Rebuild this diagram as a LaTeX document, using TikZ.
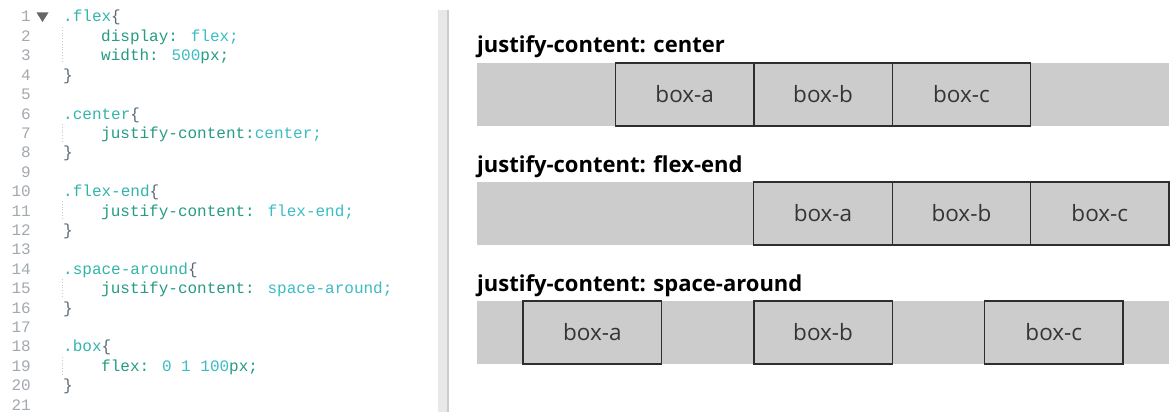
\documentclass[tikz,border=0pt]{standalone}
\usepackage{fontspec}
\setmainfont{Open Sans}
\newfontfamily\codefont{Liberation Mono}
\newfontfamily\uifont{Open Sans}
\definecolor{sel}{HTML}{33B5AC}
\definecolor{prop}{HTML}{259C83}
\definecolor{val}{HTML}{3CBCC4}
\definecolor{brace}{HTML}{5B6878}
\definecolor{lnum}{HTML}{A3A9AF}
\definecolor{cont}{HTML}{CCCCCC}
\definecolor{boxline}{HTML}{2E2E2E}
\definecolor{boxtext}{HTML}{353535}
\definecolor{guide}{HTML}{C8CCD0}
\tikzset{
  lno/.style={anchor=base east, inner sep=0pt, text=lnum, font=\codefont\fontsize{16}{16}\selectfont},
  code/.style={anchor=base west, inner sep=0pt, font=\codefont\fontsize{16}{16}\selectfont},
  title/.style={anchor=base west, inner sep=0pt, text=black, font=\uifont\bfseries\fontsize{22}{22}\selectfont},
  strip/.style={anchor=north west, fill=cont, draw=none, minimum width=692pt, minimum height=63pt, inner sep=0pt},
  flexbox/.style={fill=cont, draw=boxline, line width=1.3pt, minimum width=138.4pt, minimum height=63pt, inner sep=0pt, text=boxtext, font=\uifont\fontsize{22.5}{22.5}\selectfont},
  indent/.style={draw=guide, line width=0.8pt, dotted}
}
\newcommand{\Sel}[1]{\textcolor{sel}{#1}}
\newcommand{\Prp}[1]{\textcolor{prop}{#1}}
\newcommand{\Val}[1]{\textcolor{val}{#1}}
\newcommand{\Brc}[1]{\textcolor{brace}{#1}}
\begin{document}
\begin{tikzpicture}[x=1pt,y=-1pt]
\useasboundingbox (0,0) rectangle (1173,412);
\fill[white] (0,0) rectangle (1173,412);

% line numbers
\foreach \n in {1,...,21}{
  \node[lno] (ln\n) at (31,{22+(\n-1)*19.4}) {\n};
}
% fold marker
\fill[black!60] (36.5,12.5) -- (48.5,12.5) -- (42.5,22) -- cycle;

% indent guides
\draw[indent] (62.5,27) -- (62.5,63);
\draw[indent] (62.5,124) -- (62.5,141);
\draw[indent] (62.5,201) -- (62.5,218);
\draw[indent] (62.5,279) -- (62.5,296);
\draw[indent] (62.5,357) -- (62.5,374);

% stylesheet
\node[code] (c1)  at (63,22)    {\Sel{.flex}\Brc{\{}};
\node[code] (c2)  at (101,41.4) {\Prp{display:} \Val{flex;}};
\node[code] (c3)  at (101,60.8) {\Prp{width:} \Val{500}\Prp{px;}};
\node[code] (c4)  at (63,80.2)  {\Brc{\}}};
\node[code] (c6)  at (63,119)   {\Sel{.center}\Brc{\{}};
\node[code] (c7)  at (101,138.4){\Prp{justify-content:}\Val{center;}};
\node[code] (c8)  at (63,157.8) {\Brc{\}}};
\node[code] (c10) at (63,196.6) {\Sel{.flex-end}\Brc{\{}};
\node[code] (c11) at (101,216)  {\Prp{justify-content:} \Val{flex-end;}};
\node[code] (c12) at (63,235.4) {\Brc{\}}};
\node[code] (c14) at (63,274.2) {\Sel{.space-around}\Brc{\{}};
\node[code] (c15) at (101,293.6){\Prp{justify-content:} \Val{space-around;}};
\node[code] (c16) at (63,313)   {\Brc{\}}};
\node[code] (c18) at (63,351.8) {\Sel{.box}\Brc{\{}};
\node[code] (c19) at (101,371.2){\Prp{flex:} \Val{0 1 100}\Prp{px;}};
\node[code] (c20) at (63,390.6) {\Brc{\}}};

% pane divider
\fill[black!9] (438,10) rectangle (447,412);
\fill[black!20] (447,10) rectangle (449,412);

% justify-content: center
\node[title] (t1) at (477,53) {justify-content: center};
\node[strip] (s1) at (477,63) {};
\node[flexbox] (a1) at (684.7,94.5)  {box-a};
\node[flexbox] (b1) at (823.1,94.5)  {box-b};
\node[flexbox] (k1) at (961.5,94.5)  {box-c};

% justify-content: flex-end
\node[title] (t2) at (477,172) {justify-content: flex-end};
\node[strip] (s2) at (477,182) {};
\node[flexbox] (a2) at (823.0,213.5)  {box-a};
\node[flexbox] (b2) at (961.4,213.5)  {box-b};
\node[flexbox] (k2) at (1099.8,213.5) {box-c};

% justify-content: space-around
\node[title] (t3) at (477,291) {justify-content: space-around};
\node[strip] (s3) at (477,301) {};
\node[flexbox] (a3) at (592.3,332.5)  {box-a};
\node[flexbox] (b3) at (823.1,332.5)  {box-b};
\node[flexbox] (k3) at (1053.8,332.5) {box-c};
\end{tikzpicture}
\end{document}
